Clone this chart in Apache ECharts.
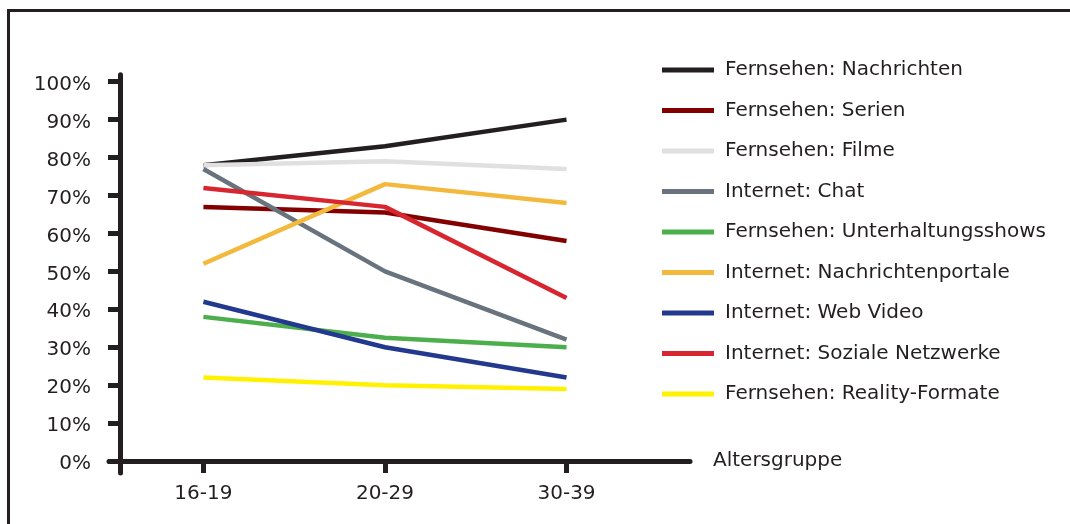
<!DOCTYPE html>
<html>
<head>
<meta charset="utf-8">
<script src="https://cdn.jsdelivr.net/npm/echarts@6/dist/echarts.min.js"></script>
<style>
  html, body { margin: 0; padding: 0; background: #ffffff; }
  #chart { width: 1070px; height: 524px; }
</style>
</head>
<body>
<div id="chart"></div>
<script>
// Age groups on the x axis
const categories = ['16-19', '20-29', '30-39'];

// Share of each age group using the medium (percent)
const fernsehenNachrichten = [78, 83, 90];
const fernsehenSerien = [67, 65.5, 58];
const fernsehenFilme = [78, 79, 77];
const internetChat = [77, 50, 32];
const fernsehenUnterhaltungsshows = [38, 32.5, 30];
const internetNachrichtenportale = [52, 73, 68];
const internetWebVideo = [42, 30, 22];
const internetSozialeNetzwerke = [72, 67, 43];
const fernsehenRealityFormate = [22, 20, 19];

// Y axis tick values (percent)
const yTicks = [0, 10, 20, 30, 40, 50, 60, 70, 80, 90, 100];

const seriesDefs = [
  { name: 'Fernsehen: Nachrichten', values: fernsehenNachrichten, color: '#231f20' },
  { name: 'Fernsehen: Serien', values: fernsehenSerien, color: '#820000' },
  { name: 'Fernsehen: Filme', values: fernsehenFilme, color: '#e0e0e0' },
  { name: 'Internet: Chat', values: internetChat, color: '#68737d' },
  { name: 'Fernsehen: Unterhaltungsshows', values: fernsehenUnterhaltungsshows, color: '#4cae4c' },
  { name: 'Internet: Nachrichtenportale', values: internetNachrichtenportale, color: '#f3b93d' },
  { name: 'Internet: Web Video', values: internetWebVideo, color: '#22398e' },
  { name: 'Internet: Soziale Netzwerke', values: internetSozialeNetzwerke, color: '#d7262f' },
  { name: 'Fernsehen: Reality-Formate', values: fernsehenRealityFormate, color: '#fff200' }
];

const FONT = 'DejaVu Sans';
const TEXT = '#231f20';
const catIndex = categories.map((c, i) => i);

const chart = echarts.init(document.getElementById('chart'), null, { renderer: 'canvas' });

chart.setOption({
  animation: false,
  backgroundColor: '#ffffff',
  textStyle: { fontFamily: FONT, color: TEXT },
  graphic: [{
    type: 'rect',
    silent: true,
    shape: { x: 8.5, y: 10.5, width: 1200, height: 600 },
    style: { fill: 'none', stroke: '#231f20', lineWidth: 3 }
  }],
  grid: { left: 109, right: 380, top: 74.7, bottom: 51, containLabel: false },
  legend: {
    orient: 'vertical',
    left: 662,
    top: 60,
    padding: 0,
    itemWidth: 52,
    itemHeight: 5,
    itemGap: 20.5,
    icon: 'rect',
    selectedMode: false,
    textStyle: { fontFamily: FONT, fontSize: 20, color: TEXT, lineHeight: 20, padding: [0, 0, 0, 6] },
    data: seriesDefs.map(s => s.name)
  },
  xAxis: {
    type: 'value',
    min: -0.52,
    max: 2.68,
    name: 'Altersgruppe',
    nameLocation: 'end',
    nameGap: 23,
    nameTextStyle: { fontFamily: FONT, fontSize: 20, color: TEXT, padding: [4, 0, 0, 0] },
    axisLine: { show: true, onZero: true, lineStyle: { color: '#231f20', width: 5 } },
    axisTick: { show: true, length: 12, customValues: catIndex, lineStyle: { color: '#231f20', width: 5 } },
    axisLabel: {
      customValues: catIndex,
      margin: 11,
      fontFamily: FONT, fontSize: 20, color: TEXT,
      formatter: v => categories[Math.round(v)] ?? ''
    },
    splitLine: { show: false }
  },
  yAxis: {
    type: 'value',
    min: -3.16,
    max: 101.85,
    offset: -11,
    axisLine: { show: true, onZero: false, lineStyle: { color: '#231f20', width: 5 } },
    axisTick: { show: true, length: 12, customValues: yTicks, lineStyle: { color: '#231f20', width: 5 } },
    axisLabel: {
      customValues: yTicks,
      margin: 29,
      fontFamily: FONT, fontSize: 20, color: TEXT,
      formatter: v => '{p|' + Math.round(v) + '%}',
      rich: { p: { fontFamily: FONT, fontSize: 20, color: TEXT, padding: [6, 0, 0, 0] } }
    },
    splitLine: { show: false }
  },
  series: seriesDefs.map(s => ({
    name: s.name,
    type: 'line',
    data: s.values.map((v, i) => [i, v]),
    showSymbol: false,
    symbol: 'none',
    color: s.color,
    lineStyle: { color: s.color, width: 4.5 },
    itemStyle: { color: s.color }
  }))
});
</script>
</body>
</html>
